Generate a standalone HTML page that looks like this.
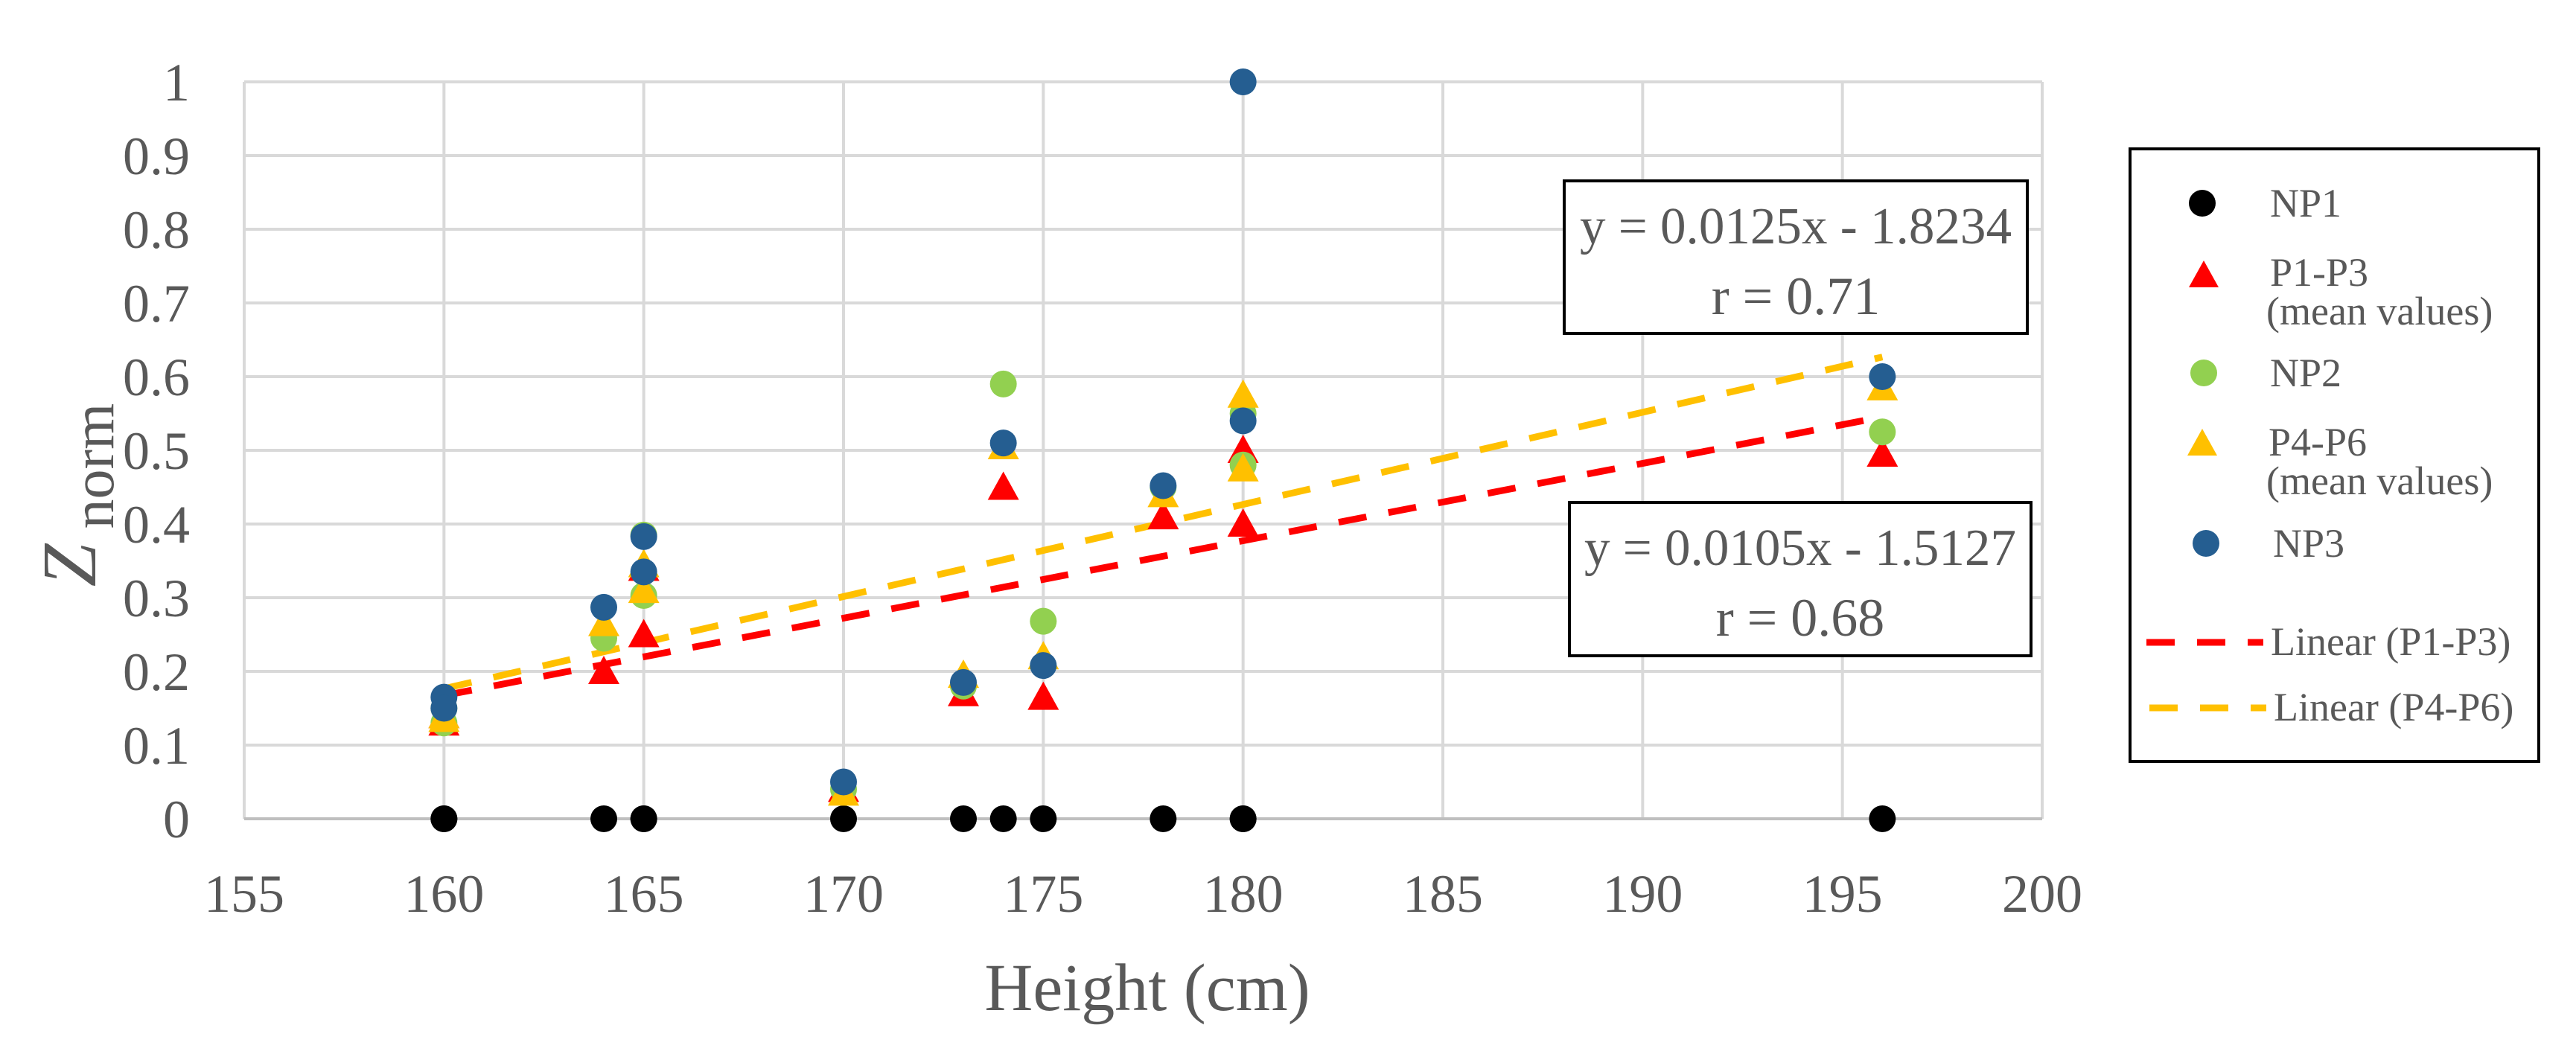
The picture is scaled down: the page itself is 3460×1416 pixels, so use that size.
<!DOCTYPE html>
<html><head><meta charset="utf-8"><style>
html,body{margin:0;padding:0;background:#fff;}
svg{display:block;font-family:"Liberation Serif",serif;}
</style></head><body>
<svg id="chart" width="3460" height="1416" viewBox="0 0 3460 1416">
<g id="grid"></g>
<g id="axes"></g>
<g id="trend"></g>
<g id="marks"></g>
<text x="1541" y="1357" font-size="90" fill="#595959" text-anchor="middle">Height (cm)</text>
<g transform="translate(128,665) rotate(-90)">
<text x="0" y="0" font-size="104" fill="#595959" text-anchor="middle" font-style="italic">Z<tspan font-size="80" font-style="normal" dy="24"> norm</tspan></text>
</g>
<g>
<rect x="2101" y="243" width="622" height="205" fill="#fff" stroke="#000" stroke-width="4"/>
<text x="2412" y="327" font-size="70" fill="#595959" text-anchor="middle" textLength="580" lengthAdjust="spacingAndGlyphs">y = 0.0125x - 1.8234</text>
<text x="2412" y="422" font-size="72" fill="#595959" text-anchor="middle">r = 0.71</text>
</g>
<g>
<rect x="2108" y="675" width="620" height="206" fill="#fff" stroke="#000" stroke-width="4"/>
<text x="2418" y="759" font-size="70" fill="#595959" text-anchor="middle" textLength="580" lengthAdjust="spacingAndGlyphs">y = 0.0105x - 1.5127</text>
<text x="2418" y="854" font-size="72" fill="#595959" text-anchor="middle">r = 0.68</text>
</g>
<g>
<rect x="2861" y="200" width="549" height="823" fill="#fff" stroke="#000" stroke-width="4"/>
<g><circle cx="2958" cy="273" r="18" fill="#000"/><text x="3049" y="291" font-size="54" fill="#595959">NP1</text></g>
<g><polygon points="2960,350 2980,386 2940,386" fill="#ff0000"/><text x="3049" y="384" font-size="54" fill="#595959">P1-P3</text><text x="3044" y="436" font-size="54" fill="#595959">(mean values)</text></g>
<g><circle cx="2960" cy="501" r="18" fill="#92d050"/><text x="3049" y="519" font-size="54" fill="#595959">NP2</text></g>
<g><polygon points="2958,576 2978,612 2938,612" fill="#ffc000"/><text x="3047" y="612" font-size="54" fill="#595959">P4-P6</text><text x="3044" y="664" font-size="54" fill="#595959">(mean values)</text></g>
<g><circle cx="2963" cy="730" r="18" fill="#255e91"/><text x="3053" y="748" font-size="54" fill="#595959">NP3</text></g>
<g><line x1="2883" y1="863" x2="3040" y2="863" stroke="#ff0000" stroke-width="9" stroke-dasharray="38,30"/><text x="3050" y="880" font-size="54" fill="#595959">Linear (P1-P3)</text></g>
<g><line x1="2887" y1="951" x2="3044" y2="951" stroke="#ffc000" stroke-width="9" stroke-dasharray="38,30"/><text x="3054" y="968" font-size="54" fill="#595959">Linear (P4-P6)</text></g>
</g>
</svg>
<script>
const heights = [160,160,164,165,165,170,173,174,175,178,180,180,196];
const np1 = [0,0,0,0,0,0,0,0,0,0,0,0,0];
const p1p3 = [0.13,0.14,0.2,0.25,0.34,0.04,0.17,0.45,0.165,0.41,0.5,0.4,0.495];
const np2 = [0.13,0.15,0.245,0.385,0.303,0.04,0.18,0.59,0.268,0.45,0.48,0.55,0.525];
const p4p6 = [0.135,0.14,0.265,0.345,0.31,0.035,0.195,0.505,0.22,0.44,0.575,0.475,0.585];
const np3 = [0.165,0.15,0.287,0.383,0.335,0.05,0.185,0.51,0.208,0.452,1.0,0.54,0.6];
const trendP1P3 = [0.0105,-1.5127];
const trendP4P6 = [0.0125,-1.8234];
const trendRange = [160,196];
const xTicks = [155,160,165,170,175,180,185,190,195,200];
const yTicks = [0,0.1,0.2,0.3,0.4,0.5,0.6,0.7,0.8,0.9,1];

const NS="http://www.w3.org/2000/svg";
const X0=328,X1=2743,Y0=1100,Y1=110;
const xs=v=>X0+(v-155)/45*(X1-X0);
const ys=v=>Y0-(v-0)/1*(Y0-Y1);
function mk(tag,attrs,parent){const e=document.createElementNS(NS,tag);for(const k in attrs)e.setAttribute(k,attrs[k]);parent.appendChild(e);return e;}
const grid=document.getElementById('grid'),axes=document.getElementById('axes'),trend=document.getElementById('trend'),marks=document.getElementById('marks');
xTicks.forEach(t=>{
 const l=mk('line',{x1:xs(t),x2:xs(t),y1:Y1,y2:Y0,stroke:'#d9d9d9','stroke-width':4},grid);
 
 
 const tx=mk('text',{x:xs(t),y:1225,'font-size':72,fill:'#595959','text-anchor':'middle'},axes);
 tx.textContent=t;
 
 
});
yTicks.forEach(t=>{
 const l=mk('line',{x1:X0,x2:X1,y1:ys(t),y2:ys(t),stroke:'#d9d9d9','stroke-width':4},grid);
 
 
 const tx=mk('text',{x:255,y:ys(t)+25,'font-size':72,fill:'#595959','text-anchor':'end'},axes);
 tx.textContent=t;
 
 
});
const ax=mk('line',{x1:X0,x2:X1,y1:Y0,y2:Y0,stroke:'#bfbfbf','stroke-width':4},axes);


function tl(c,color,name){
 const l=mk('line',{x1:xs(trendRange[0]),y1:ys(c[0]*trendRange[0]+c[1]),x2:xs(trendRange[1]),y2:ys(c[0]*trendRange[1]+c[1]),stroke:color,'stroke-width':9,'stroke-dasharray':'38,30'},trend);
 
 
}
tl(trendP1P3,'#ff0000','trendline-p1-p3');
tl(trendP4P6,'#ffc000','trendline-p4-p6');
function circles(vals,color,name){vals.forEach((v,i)=>{
 const c=mk('circle',{cx:xs(heights[i]),cy:ys(v),r:18,fill:color},marks);
 
 
});}
function tris(vals,color,name){vals.forEach((v,i)=>{
 const x=xs(heights[i]),y=ys(v);
 const p=mk('polygon',{points:`${x},${y-21} ${x+21},${y+17} ${x-21},${y+17}`,fill:color},marks);
 
 
});}
circles(np1,'#000','point-np1');
tris(p1p3,'#ff0000','point-p1-p3');
circles(np2,'#92d050','point-np2');
tris(p4p6,'#ffc000','point-p4-p6');
circles(np3,'#255e91','point-np3');
</script>
</body></html>
